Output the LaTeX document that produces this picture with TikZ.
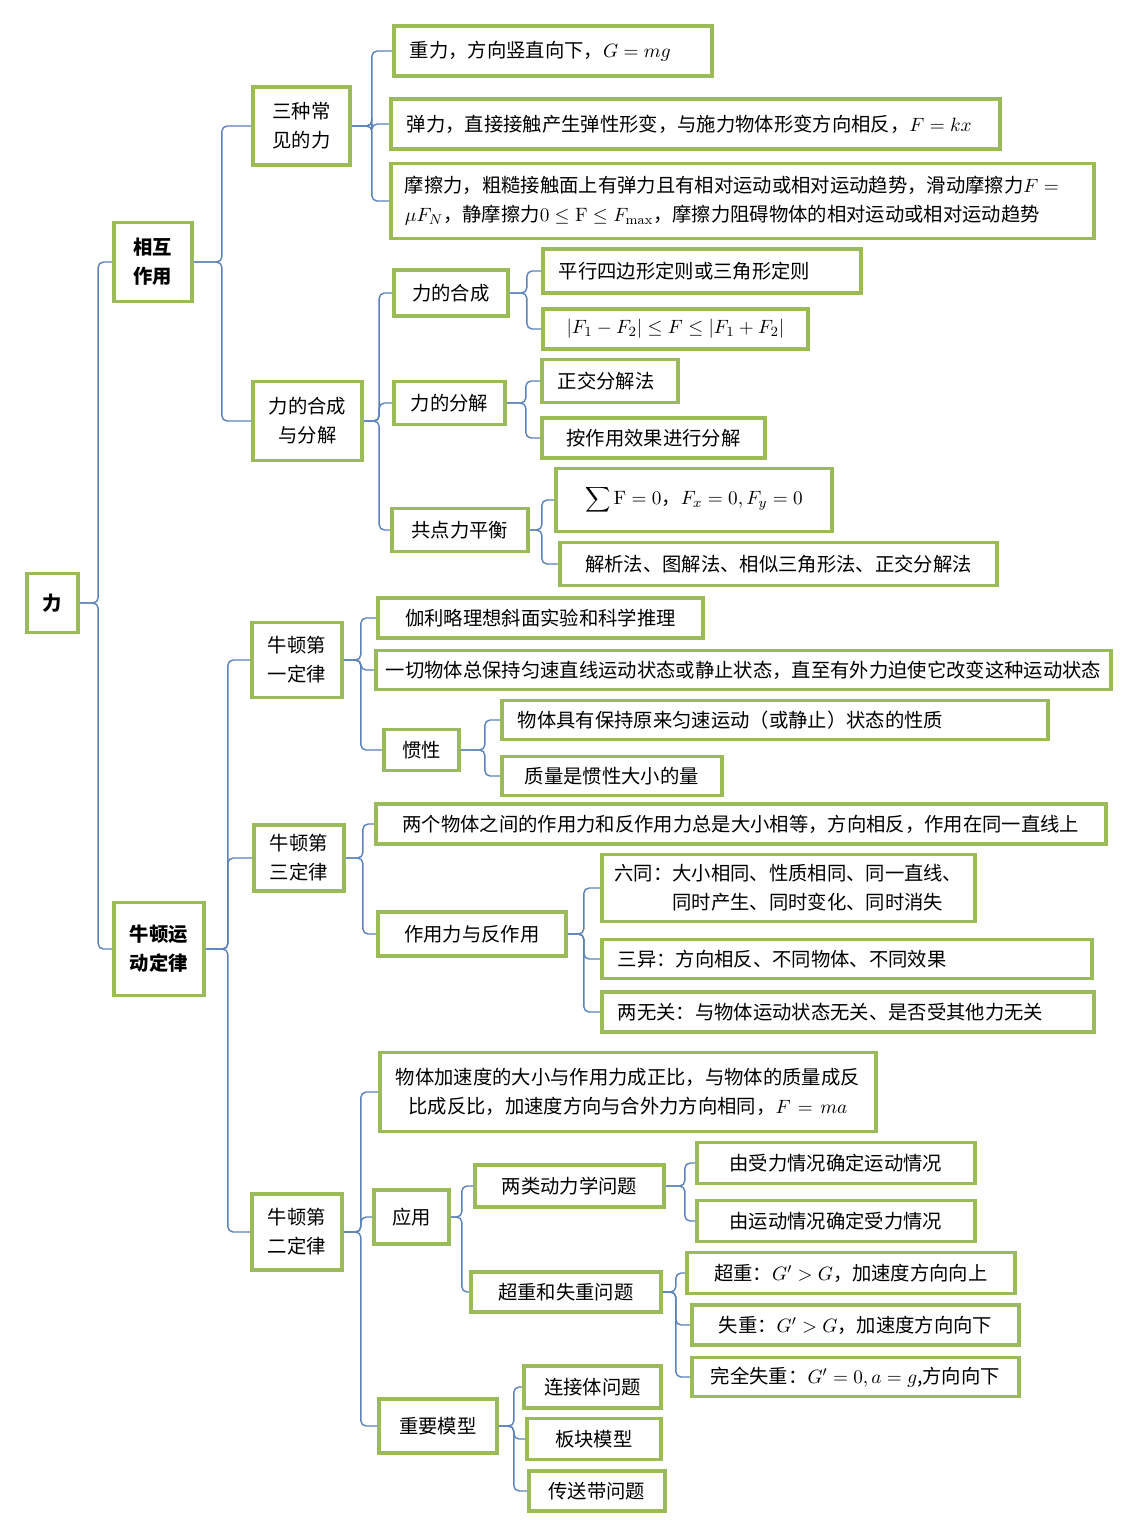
\documentclass[tikz,border=0pt]{standalone}
\usepackage{fontspec}
\setmainfont{Noto Sans CJK SC}
\setmathrm{Latin Modern Roman}
\usepackage{tikz}
\usetikzlibrary{positioning}
\definecolor{boxgreen}{RGB}{155,187,89}
\definecolor{linkblue}{RGB}{91,131,185}
\relpenalty=10000
\binoppenalty=10000

\begin{document}
\begin{tikzpicture}[
    x=0.02cm, y=-0.02cm,
    box/.style={draw=boxgreen, line width=2.2pt, fill=white, inner xsep=0.32cm, inner ysep=1pt, anchor=west, align=center, font=\fontsize{11}{16.5}\selectfont},
    key/.style={box, font=\fontsize{11}{16.5}\selectfont\bfseries},
    lft/.style={align=left},
    link/.style={draw=linkblue, line width=0.8pt, rounded corners=3pt},
]
\useasboundingbox (0,0) rectangle (1134,1539);

% Root and main branches
\node[key, minimum width=0.9cm, minimum height=1.18cm] (li) at (25,603) {力};
\node[key, minimum width=1.56cm, minimum height=1.58cm] (xh) at (112,262) {相互\\作用};
\node[key, minimum width=1.78cm, minimum height=1.86cm] (nd) at (112,949) {牛顿运\\动定律};

% Interaction
\node[box, minimum width=1.94cm, minimum height=1.56cm] (sz) at (251,126) {三种常\\见的力};
\node[box, minimum width=2.16cm, minimum height=1.58cm] (hf) at (251,421) {力的合成\\与分解};

\node[box, lft, text width=5.72cm, minimum height=1cm] (zl) at (392,51) {重力，方向竖直向下，$G = mg$};
\node[box, lft, text width=11.54cm, minimum height=1cm] (tl) at (389,124) {弹力，直接接触产生弹性形变，与施力物体形变方向相反，$F = kx$};
\node[box, lft, inner xsep=0.28cm, text width=13.5cm, minimum height=1.5cm] (mc) at (389,201) {摩擦力，粗糙接触面上有弹力且有相对运动或相对运动趋势，滑动摩擦力$F =$\\$\mu F_N$，静摩擦力$0 \le \mathrm{F} \le F_{\max}$，摩擦力阻碍物体的相对运动或相对运动趋势};

\node[box, minimum width=2.28cm, minimum height=0.92cm] (hc) at (392,293) {力的合成};
\node[box, minimum width=2.22cm, minimum height=0.86cm] (fj) at (392,403) {力的分解};
\node[box, minimum width=2.72cm, minimum height=0.86cm] (ph) at (390,530) {共点力平衡};

\node[box, lft, text width=5.72cm, minimum height=0.88cm] (px) at (541,271) {平行四边形定则或三角形定则};
\node[box, minimum width=5.3cm, minimum height=0.8cm] (fw) at (541,329) {$|F_1 - F_2| \le F \le |F_1 + F_2|$};
\node[box, lft, text width=2.08cm, minimum height=0.86cm] (zj) at (540,381) {正交分解法};
\node[box, minimum width=4.46cm, minimum height=0.8cm] (ax) at (540,438) {按作用效果进行分解};
\node[box, minimum width=5.52cm, minimum height=1.26cm] (sf) at (554,500) {$\displaystyle\sum \mathrm{F} = 0$，$F_x = 0, F_y = 0$};
\node[box, minimum width=8.74cm, minimum height=0.86cm] (jx) at (558,564) {解析法、图解法、相似三角形法、正交分解法};

% Newton's laws
\node[box, minimum width=1.76cm, minimum height=1.5cm] (d1) at (250,660) {牛顿第\\一定律};
\node[box, minimum width=1.78cm, minimum height=1.32cm] (d3) at (252,858) {牛顿第\\三定律};
\node[box, minimum width=1.78cm, minimum height=1.52cm] (d2) at (250,1232) {牛顿第\\二定律};

% First law
\node[box, minimum width=6.5cm, minimum height=0.8cm] (jl) at (376,618) {伽利略理想斜面实验和科学推理};
\node[box, inner xsep=0.2cm, minimum width=14.64cm, minimum height=0.78cm] (yq) at (374,670) {一切物体总保持匀速直线运动状态或静止状态，直至有外力迫使它改变这种运动状态};
\node[box, minimum width=1.5cm, minimum height=0.82cm] (gx) at (382,750) {惯性};
\node[box, lft, text width=10.28cm, minimum height=0.78cm] (bc) at (500,720) {物体具有保持原来匀速运动（或静止）状态的性质};
\node[box, minimum width=4.4cm, minimum height=0.78cm] (zliang) at (500,776) {质量是惯性大小的量};

% Third law
\node[box, minimum width=14.6cm, minimum height=0.8cm] (lg) at (374,824) {两个物体之间的作用力和反作用力总是大小相等，方向相反，作用在同一直线上};
\node[box, minimum width=3.76cm, minimum height=0.88cm] (zy) at (376,934) {作用力与反作用};
\node[box, lft, inner xsep=0.25cm, text width=6.96cm, minimum height=1.34cm] (lt) at (600,888) {六同：大小相同、性质相同、同一直线、\\\hspace*{3em}同时产生、同时变化、同时消失};
\node[box, lft, text width=9.16cm, minimum height=0.78cm] (sy) at (600,959) {三异：方向相反、不同物体、不同效果};
\node[box, lft, text width=9.2cm, minimum height=0.8cm] (lw) at (600,1012) {两无关：与物体运动状态无关、是否受其他力无关};

% Second law
\node[box, inner xsep=0.28cm, text width=9.36cm, minimum height=1.58cm] (jsd) at (378,1092) {物体加速度的大小与作用力成正比，与物体的质量成反\\比成反比，加速度方向与合外力方向相同，$F = ma$};
\node[box, minimum width=1.5cm, minimum height=1.08cm] (yy) at (372,1217) {应用};
\node[box, minimum width=2.36cm, minimum height=1.08cm] (mx) at (377,1426) {重要模型};
\node[box, minimum width=3.78cm, minimum height=0.84cm] (ll) at (473,1186) {两类动力学问题};
\node[box, minimum width=3.8cm, minimum height=0.8cm] (cs) at (469,1292) {超重和失重问题};
\node[box, minimum width=5.56cm, minimum height=0.82cm] (ys) at (695,1163) {由受力情况确定运动情况};
\node[box, minimum width=5.56cm, minimum height=0.82cm] (yd) at (695,1221) {由运动情况确定受力情况};
\node[box, minimum width=6.56cm, minimum height=0.82cm] (cz) at (685,1273) {超重：$G' > G$，加速度方向向上};
\node[box, minimum width=6.54cm, minimum height=0.8cm] (shz) at (690,1325) {失重：$G' > G$，加速度方向向下};
\node[box, minimum width=6.54cm, minimum height=0.78cm] (wq) at (690,1377) {完全失重：$G' = 0, a = g$,方向向下};
\node[box, minimum width=2.74cm, minimum height=0.84cm] (lj) at (522,1387) {连接体问题};
\node[box, minimum width=2.68cm, minimum height=0.82cm] (bk) at (525,1439) {板块模型};
\node[box, minimum width=2.72cm, minimum height=0.8cm] (cd) at (527,1491) {传送带问题};

% Brackets
\foreach \c in {xh,nd} \draw[link] (li.east) -- ++(18,0) |- (\c.west);
\foreach \c in {sz,hf} \draw[link] (xh.east) -- ++(28,0) |- (\c.west);
\foreach \c in {d1,d3,d2} \draw[link] (nd.east) -- ++(22,0) |- (\c.west);
\foreach \c in {zl,tl,mc} \draw[link] (sz.east) -- ++(20,0) |- (\c.west);
\foreach \c in {hc,fj,ph} \draw[link] (hf.east) -- ++(15,0) |- (\c.west);
\foreach \c in {px,fw} \draw[link] (hc.east) -- ++(17,0) |- (\c.west);
\foreach \c in {zj,ax} \draw[link] (fj.east) -- ++(19,0) |- (\c.west);
\foreach \c in {sf,jx} \draw[link] (ph.east) -- ++(12,0) |- (\c.west);
\foreach \c in {jl,yq,gx} \draw[link] (d1.east) -- ++(17,0) |- (\c.west);
\foreach \c in {bc,zliang} \draw[link] (gx.east) -- ++(24,0) |- (\c.west);
\foreach \c in {lg,zy} \draw[link] (d3.east) -- ++(17,0) |- (\c.west);
\foreach \c in {lt,sy,lw} \draw[link] (zy.east) -- ++(16,0) |- (\c.west);
\foreach \c in {jsd,yy,mx} \draw[link] (d2.east) -- ++(17,0) |- (\c.west);
\foreach \c in {ll,cs} \draw[link] (yy.east) -- ++(11,0) |- (\c.west);
\foreach \c in {ys,yd} \draw[link] (ll.east) -- ++(19,0) |- (\c.west);
\foreach \c in {cz,shz,wq} \draw[link] (cs.east) -- ++(13,0) |- (\c.west);
\foreach \c in {lj,bk,cd} \draw[link] (mx.east) -- ++(15,0) |- (\c.west);
\end{tikzpicture}
\end{document}
